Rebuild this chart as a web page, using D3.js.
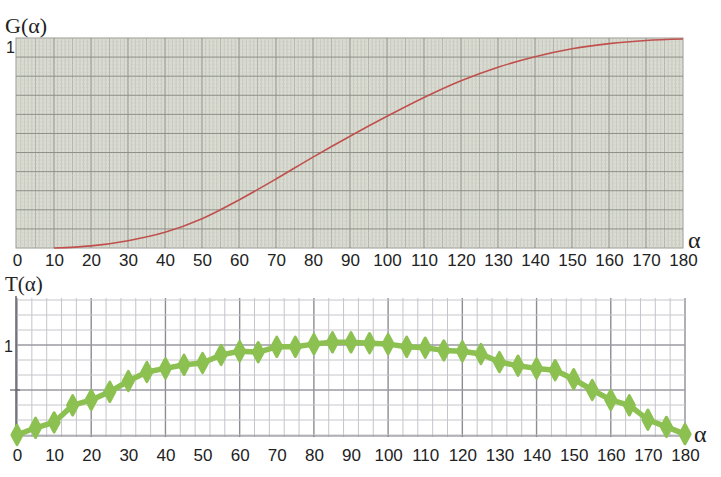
<!DOCTYPE html>
<html><head><meta charset="utf-8">
<script src="https://cdn.jsdelivr.net/npm/d3@7"></script>
<style>html,body{margin:0;padding:0;background:#fff;}svg{display:block;}</style>
</head><body>
<svg id="c" width="721" height="477"></svg>
<script>
// ---- data ----
const gAlpha = [10,20,30,40,50,60,70,80,90,100,110,120,130,140,150,160,170,180];
const gValues = [0,0.01,0.035,0.075,0.14,0.23,0.33,0.435,0.535,0.63,0.72,0.80,0.865,0.915,0.953,0.978,0.993,1.0];
const tAlpha = [0,5,10,15,20,25,30,35,40,45,50,55,60,65,70,75,80,85,90,95,100,105,110,115,120,125,130,135,140,145,150,155,160,165,170,175,180];
const tValues = [0,0.08,0.14,0.33,0.39,0.48,0.60,0.70,0.74,0.78,0.80,0.89,0.93,0.92,0.98,0.98,1.01,1.03,1.03,1.02,1.01,0.98,0.97,0.94,0.93,0.90,0.81,0.77,0.74,0.72,0.62,0.50,0.39,0.33,0.17,0.09,0.01];
const xTickLabels = [0,10,20,30,40,50,60,70,80,90,100,110,120,130,140,150,160,170,180];
const yTickLabel = "1";

const svg = d3.select("#c");
const SANS = "Liberation Sans, Arial, sans-serif";
const SERIF = "Liberation Serif, Times New Roman, serif";

// ---------- upper chart ----------
const tx = d3.scaleLinear().domain([0,180]).range([17,683]);
const ty = d3.scaleLinear().domain([0,1]).range([248,39]);
const gTop = svg.append("g");
gTop.append("rect").attr("x",16).attr("y",38).attr("width",667).attr("height",210)
  .attr("fill","#dadcd2").attr("stroke","#9a9c94").attr("stroke-width",1);
gTop.append("g").selectAll("line").data(d3.range(1,180)).join("line")
  .attr("x1",d=>tx(d)).attr("x2",d=>tx(d)).attr("y1",38).attr("y2",248)
  .attr("stroke",d=>d%10===0?"#8e9088":(d%5===0?"#a9aba2":"#c2c4bb")).attr("stroke-width",d=>d%10===0?1:0.8);
gTop.append("g").selectAll("line").data(d3.range(1,55)).join("line")
  .attr("x1",16).attr("x2",683)
  .attr("y1",d=>248-d*210/55).attr("y2",d=>248-d*210/55)
  .attr("stroke",d=>d%5===0?"#8e9088":"#c6c8bf").attr("stroke-width",d=>d%5===0?1:0.6)
  .attr("stroke-dasharray",d=>d%5===0?null:"1,1");
gTop.append("path").datum(gAlpha.map((a,i)=>[a,gValues[i]]))
  .attr("d",d3.line().x(d=>tx(d[0])).y(d=>ty(d[1])).curve(d3.curveCatmullRom))
  .attr("fill","none").attr("stroke","#c0504d").attr("stroke-width",1.6);
const topAxis = d3.axisBottom(tx).tickValues(xTickLabels).tickSize(0).tickPadding(0);
const ta = gTop.append("g").attr("transform","translate(0,251)").call(topAxis);
ta.select(".domain").remove();
ta.selectAll("text").attr("font-family",SANS).attr("font-size",17).attr("fill","#222").attr("dy","0.9em");
gTop.append("text").attr("x",6).attr("y",53).text(yTickLabel)
  .attr("font-family",SANS).attr("font-size",16).attr("fill","#222");
gTop.append("text").attr("x",5).attr("y",33).text("G(α)")
  .attr("font-family",SERIF).attr("font-size",22).attr("fill","#222");
gTop.append("text").attr("x",688).attr("y",248).text("α")
  .attr("font-family",SERIF).attr("font-size",24).attr("fill","#222");

// ---------- lower chart ----------
const bx = d3.scaleLinear().domain([0,180]).range([17,685]);
const by = d3.scaleLinear().domain([0,1]).range([435,345]);
const gBot = svg.append("g");
gBot.append("g").selectAll("line").data(d3.range(0,181,4)).join("line")
  .attr("x1",d=>bx(d)).attr("x2",d=>bx(d)).attr("y1",298).attr("y2",437)
  .attr("stroke",d=>d%20===0?"#8c8c94":"#c4c4ca").attr("stroke-width",d=>d%20===0?1.4:1);
gBot.append("line").attr("x1",bx(180)).attr("x2",bx(180)).attr("y1",298).attr("y2",437).attr("stroke","#b0b0b6");
gBot.append("g").selectAll("line").data(d3.range(0,10)).join("line")
  .attr("x1",16).attr("x2",685)
  .attr("y1",d=>300+d*15).attr("y2",d=>300+d*15)
  .attr("stroke",d=>(d===3||d===6)?"#9a9aa2":"#c6c6cc").attr("stroke-width",d=>(d===3||d===6)?1.3:1);
gBot.append("line").attr("x1",16).attr("x2",16).attr("y1",296).attr("y2",437).attr("stroke","#606068").attr("stroke-width",1.5);
gBot.append("line").attr("x1",16).attr("x2",685).attr("y1",436).attr("y2",436).attr("stroke","#808088").attr("stroke-width",1.2);
gBot.append("line").attr("x1",10).attr("x2",20).attr("y1",390).attr("y2",390).attr("stroke","#606068").attr("stroke-width",1.2);
const tData = tAlpha.map((a,i)=>[a,tValues[i]]);
gBot.append("path").datum(tData)
  .attr("d",d3.line().x(d=>bx(d[0])).y(d=>by(d[1])))
  .attr("fill","none").attr("stroke","#8cc152").attr("stroke-width",5.5).attr("stroke-linejoin","round");
gBot.append("g").selectAll("path").data(tData).join("path")
  .attr("transform",d=>`translate(${bx(d[0])},${by(d[1])}) scale(1,1.08)`)
  .attr("d",d3.symbol().type(d3.symbolDiamond).size(90))
  .attr("fill","#8cc152").attr("stroke","#8cc152").attr("stroke-width",3).attr("stroke-linejoin","round");
const botAxis = d3.axisBottom(bx).tickValues(xTickLabels).tickSize(0).tickPadding(0);
const ba = gBot.append("g").attr("transform","translate(0,446)").call(botAxis);
ba.select(".domain").remove();
ba.selectAll("text").attr("font-family",SANS).attr("font-size",17).attr("fill","#222").attr("dy","0.9em");
gBot.append("text").attr("x",4).attr("y",352).text(yTickLabel)
  .attr("font-family",SANS).attr("font-size",16).attr("fill","#222");
gBot.append("text").attr("x",5).attr("y",291).text("T(α)")
  .attr("font-family",SERIF).attr("font-size",21).attr("fill","#222");
gBot.append("text").attr("x",694).attr("y",442).text("α")
  .attr("font-family",SERIF).attr("font-size",24).attr("fill","#222");
</script>
</body></html>
